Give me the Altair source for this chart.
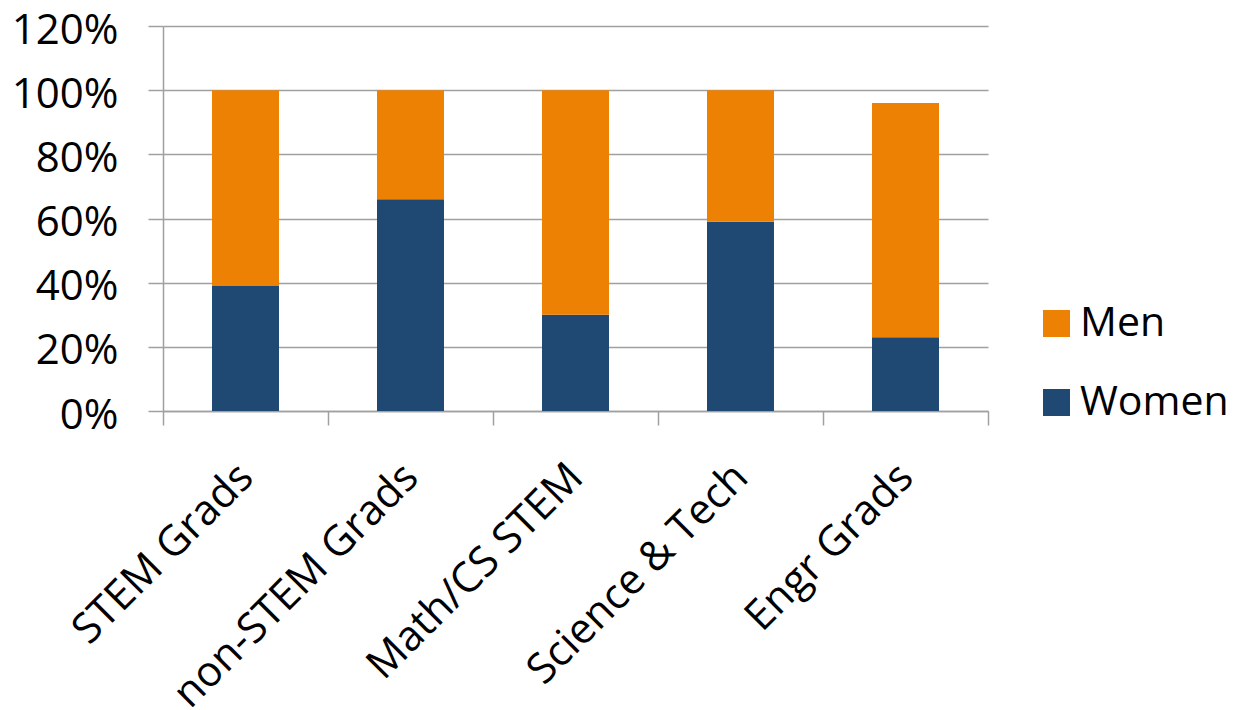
import altair as alt
import pandas as pd

categories = ["STEM Grads", "non-STEM Grads", "Math/CS STEM", "Science & Tech", "Engr Grads"]
women = [0.39, 0.66, 0.30, 0.59, 0.23]
men = [0.61, 0.34, 0.70, 0.41, 0.73]
series = ["Men", "Women"]
colors = ["#EC8104", "#1F4872"]
y_ticks = [0, 0.2, 0.4, 0.6, 0.8, 1.0, 1.2]

rows = []
for c, w, m in zip(categories, women, men):
    rows.append({"Category": c, "Gender": "Women", "Share": w, "Rank": 0})
    rows.append({"Category": c, "Gender": "Men", "Share": m, "Rank": 1})
df = pd.DataFrame(rows)

FONT = "Open Sans"
GRID = "#A0A0A0"

chart = (
    alt.Chart(df)
    .mark_bar(width={"band": 0.406})
    .encode(
        x=alt.X(
            "Category:N",
            sort=categories,
            scale=alt.Scale(paddingInner=0, paddingOuter=0),
            axis=alt.Axis(
                title=None,
                labelAngle=-45,
                labelAlign="right",
                labelBaseline="top",
                tickBand="extent",
                ticks=True,
                tickSize=14,
                tickWidth=1.5,
                tickColor=GRID,
                domainColor=GRID,
                domainWidth=1.5,
                grid=False,
                labelPadding=31,
                labelOffset=-14,
                labelFont=FONT,
                labelFontSize=42,
                labelColor="#000000",
                labelOverlap=False,
                labelLimit=0,
            ),
        ),
        y=alt.Y(
            "Share:Q",
            stack="zero",
            scale=alt.Scale(domain=[0, 1.2], nice=False),
            axis=alt.Axis(
                title=None,
                values=y_ticks,
                format=".0%",
                tickSize=15,
                tickWidth=1.5,
                tickColor=GRID,
                domainColor=GRID,
                domainWidth=1.5,
                grid=True,
                gridColor=GRID,
                gridWidth=1.5,
                labelPadding=30,
                labelOffset=4,
                labelFont=FONT,
                labelFontSize=42,
                labelColor="#000000",
            ),
        ),
        color=alt.Color(
            "Gender:N",
            scale=alt.Scale(domain=series, range=colors),
            legend=alt.Legend(
                title=None,
                orient="none",
                legendX=873,
                legendY=277,
                symbolType="square",
                symbolSize=729,
                symbolStrokeWidth=0,
                labelFont=FONT,
                labelFontSize=41,
                labelColor="#000000",
                labelOffset=3,
                rowPadding=37,
                padding=0,
            ),
        ),
        order=alt.Order("Rank:Q", sort="ascending"),
    )
    .properties(
        width=825,
        height=385,
        autosize=alt.AutoSizeParams(type="none"),
        padding={"left": 163, "top": 26, "right": 250, "bottom": 299},
        background="#FFFFFF",
    )
    .configure_view(strokeWidth=0)
)

chart.save("out.html", embed_options={"renderer": "svg", "actions": False})
